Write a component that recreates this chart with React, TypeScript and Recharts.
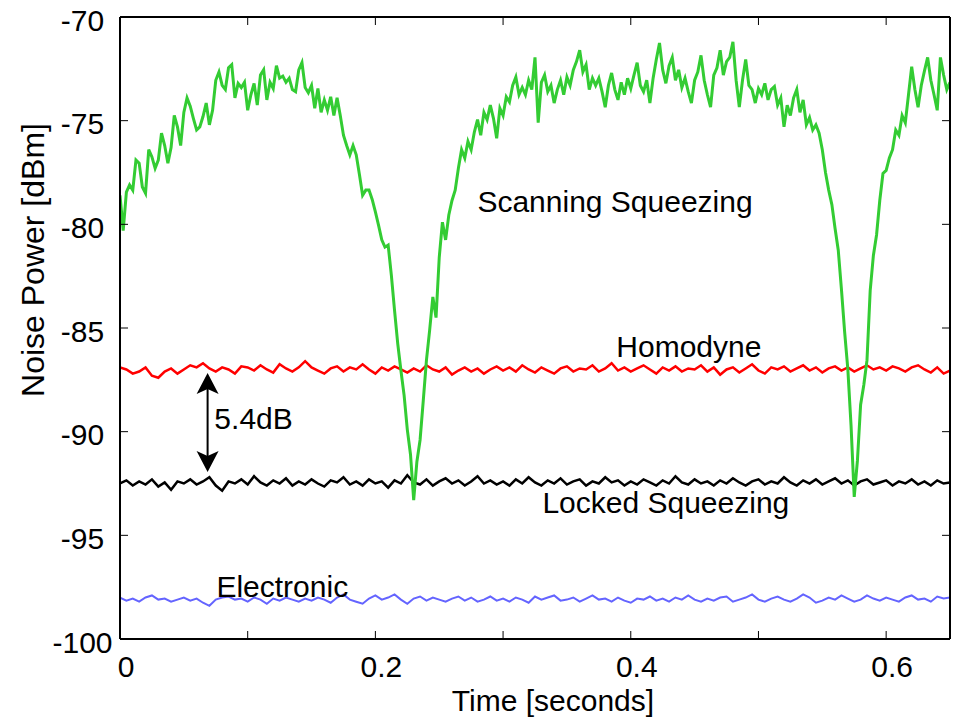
import { LineChart, Line, XAxis, YAxis, ReferenceLine, ReferenceDot } from "recharts";

// scanning squeezing trace, sampled every 0.0025 s
const scanning = [
  -78.6, -80.3, -78.45, -78.1, -78.35, -76.9, -77.05, -78.2, -78.5, -76.4,
  -76.75, -77.3, -76.9, -75.6, -76.2, -77.05, -76.3, -74.75, -75.3, -76.2,
  -74.6, -73.9, -74.3, -74.9, -75.45, -75.3, -74.8, -74.15, -75.2, -74.5,
  -73.05, -72.65, -73.3, -73.5, -72.45, -72.3, -73.9, -73.2, -73.4, -73.15,
  -74.5, -73.75, -73.2, -74.25, -72.8, -72.55, -74.0, -73.15, -73.45, -72.35,
  -72.95, -72.85, -73.15, -72.95, -73.5, -73.6, -72.55, -72.2, -73.4, -73.65,
  -73.3, -74.4, -73.45, -74.6, -74.0, -74.5, -73.85, -74.75, -73.9, -74.75,
  -75.7, -76.2, -76.65, -76.2, -76.65, -77.6, -78.6, -78.35, -78.35, -78.8,
  -79.4, -80.05, -80.75, -81.1, -81.0, -82.45, -84.15, -85.75, -87.05, -88.25,
  -89.9, -91.1, -93.3, -91.45, -90.4, -88.5, -86.55, -85.1, -83.5, -84.5,
  -81.6, -79.9, -80.75, -79.55, -78.85, -78.35, -77.3, -76.4, -76.8, -76.0,
  -76.4, -75.55, -74.95, -75.7, -74.6, -74.95, -74.25, -74.9, -75.85, -74.4,
  -74.75, -73.85, -74.1, -73.3, -72.9, -73.75, -73.4, -73.75, -73.05, -73.5,
  -71.95, -75.1, -73.15, -72.8, -73.6, -73.3, -74.15, -73.5, -73.05, -73.75,
  -72.9, -73.3, -72.55, -72.15, -71.6, -72.65, -72.3, -73.5, -72.95, -73.3,
  -72.95, -73.6, -74.35, -73.3, -72.7, -73.5, -74.0, -73.15, -73.75, -72.95,
  -73.45, -72.8, -72.2, -73.3, -73.6, -73.05, -74.15, -72.95, -72.05, -71.25,
  -72.55, -73.2, -72.35, -71.95, -73.05, -72.55, -73.4, -72.95, -73.6, -74.15,
  -73.05, -72.65, -71.85, -73.05, -73.75, -74.35, -72.8, -72.45, -71.6, -72.8,
  -72.15, -71.95, -71.2, -73.05, -74.35, -73.05, -72.05, -73.3, -73.5, -74.15,
  -73.45, -73.75, -73.2, -74.0, -73.5, -73.35, -74.25, -73.9, -75.3, -74.25,
  -74.75, -73.9, -73.5, -74.6, -74.0, -75.2, -74.85, -75.45, -75.2, -75.6,
  -76.4, -77.5, -78.35, -79.05, -80.2, -81.25, -83.15, -85.2, -87.0, -89.7,
  -93.15, -91.4, -88.7, -87.75, -86.55, -83.2, -81.5, -80.5, -78.85, -77.55,
  -77.4, -76.8, -76.4, -75.45, -75.7, -74.75, -75.1, -73.75, -72.4, -73.5,
  -74.35, -73.3, -72.6, -71.95, -73.05, -73.75, -74.5, -71.95, -72.8, -73.5,
  -73.15,
];

// flat traces, sampled every 0.005 s
const homodyne = [
  -86.9, -87.0, -87.2, -87.1, -86.9, -87.3, -87.4, -87.1, -86.95, -87.2,
  -87.0, -86.8, -86.9, -86.7, -86.95, -87.1, -86.9, -87.0, -87.2, -86.85,
  -86.9, -87.05, -86.8, -87.0, -87.15, -86.75, -86.95, -87.1, -86.9, -86.6,
  -86.9, -87.05, -87.2, -86.95, -86.85, -87.1, -86.9, -87.0, -86.75, -87.0,
  -87.2, -86.9, -87.05, -86.85, -87.0, -87.15, -86.95, -87.1, -86.8, -87.0,
  -87.1, -86.9, -87.25, -87.05, -86.9, -87.1, -86.95, -87.2, -87.0, -86.85,
  -87.05, -86.9, -87.1, -86.8, -87.0, -87.15, -86.9, -87.05, -87.2, -86.95,
  -86.85, -87.1, -86.95, -87.0, -86.8, -87.1, -86.95, -86.7, -87.05, -86.9,
  -87.1, -86.95, -86.8, -87.0, -87.2, -86.9, -87.05, -86.85, -87.1, -86.95,
  -87.0, -86.8, -87.1, -86.9, -87.25, -87.0, -86.9, -87.15, -86.95, -86.75,
  -87.05, -87.2, -86.9, -87.0, -86.85, -87.1, -86.95, -86.8, -87.05, -86.9,
  -87.15, -86.95, -86.85, -87.05, -86.9, -87.1, -86.95, -86.8, -87.0, -86.9,
  -87.05, -86.85, -86.95, -87.1, -86.9, -86.8, -87.0, -87.15, -86.9, -87.2,
  -87.05,
];

const locked = [
  -92.5, -92.35, -92.6, -92.4, -92.55, -92.3, -92.65, -92.45, -92.8, -92.4,
  -92.5, -92.3, -92.55, -92.4, -92.2, -92.6, -92.85, -92.4, -92.5, -92.3,
  -92.55, -92.15, -92.45, -92.6, -92.35, -92.5, -92.25, -92.6, -92.4, -92.55,
  -92.3, -92.5, -92.65, -92.35, -92.45, -92.2, -92.55, -92.4, -92.6, -92.3,
  -92.5, -92.4, -92.7, -92.35, -92.5, -92.1, -92.45, -92.55, -92.3, -92.6,
  -92.4, -92.25, -92.5, -92.35, -92.6, -92.4, -92.15, -92.5, -92.35, -92.55,
  -92.4, -92.6, -92.3, -92.5, -92.2, -92.45, -92.6, -92.35, -92.5, -92.25,
  -92.55, -92.4, -92.3, -92.6, -92.4, -92.5, -92.2, -92.45, -92.35, -92.6,
  -92.4, -92.55, -92.3, -92.45, -92.6, -92.35, -92.5, -92.15, -92.45, -92.55,
  -92.3, -92.5, -92.4, -92.6, -92.35, -92.5, -92.25, -92.45, -92.6, -92.4,
  -92.3, -92.55, -92.4, -92.5, -92.2, -92.45, -92.6, -92.35, -92.5, -92.3,
  -92.55, -92.4, -92.25, -92.5, -92.35, -92.6, -92.4, -92.3, -92.55, -92.45,
  -92.35, -92.6, -92.4, -92.5, -92.3, -92.55, -92.4, -92.6, -92.35, -92.5,
  -92.45,
];

const electronic = [
  -98.0, -98.15, -98.05, -98.2, -98.0, -97.9, -98.1, -98.05, -98.2, -98.1,
  -98.0, -98.15, -98.05, -98.25, -98.4, -98.1, -98.0, -97.95, -98.1, -98.05,
  -98.2, -98.0, -98.1, -98.3, -98.05, -98.15, -98.0, -98.1, -98.2, -98.05,
  -98.15, -98.0, -98.1, -98.25, -98.0, -97.85, -98.1, -98.2, -98.3, -98.05,
  -97.9, -98.1, -98.0, -97.85, -98.1, -98.3, -98.05, -97.95, -98.15, -98.0,
  -98.1, -98.2, -98.05, -97.95, -98.15, -98.0, -98.2, -98.1, -97.95, -98.15,
  -98.05, -98.2, -98.0, -98.1, -98.25, -97.95, -98.1, -98.0, -97.9, -98.15,
  -98.1, -98.0, -98.2, -98.05, -97.9, -98.1, -98.05, -98.2, -98.0, -98.15,
  -98.25, -98.05, -98.1, -97.95, -98.15, -98.05, -98.2, -98.0, -98.1, -97.9,
  -98.1, -98.2, -98.05, -98.15, -98.0, -97.95, -98.2, -98.1, -98.0, -97.85,
  -98.1, -98.2, -98.05, -97.95, -98.1, -98.2, -98.05, -97.85, -98.0, -98.25,
  -98.15, -98.0, -98.1, -97.9, -98.05, -98.2, -98.1, -97.9, -98.05, -98.15,
  -98.0, -98.1, -98.2, -98.0, -97.9, -98.1, -98.05, -98.2, -97.95, -98.05,
  -98.0,
];

const xTicks = [0, 0.1, 0.2, 0.3, 0.4, 0.5, 0.6];
const xTickLabels = ["0", "", "0.2", "", "0.4", "", "0.6"];
const yTicks = [-100, -95, -90, -85, -80, -75, -70];

// annotations: text anchored at (time, dBm), left/baseline
const notes = [
  { text: "Scanning Squeezing", t: 0.2799, v: -79.41 },
  { text: "Homodyne", t: 0.3887, v: -86.4 },
  { text: "5.4dB", t: 0.0739, v: -89.87 },
  { text: "Locked Squeezing", t: 0.3308, v: -93.93 },
  { text: "Electronic", t: 0.0755, v: -97.98 },
];
const arrowT = 0.0686;
const arrowTop = -87.17;
const arrowBottom = -91.95;

const FONT = "'Liberation Sans', Arial, Helvetica, sans-serif";

const toSeries = (vals: number[], step: number) =>
  vals.map((v, i) => ({ t: +(i * step).toFixed(4), v }));

function BottomTick({ x, y, payload }: any) {
  const label = xTickLabels[Math.round(payload.value * 10)];
  return (
    <g>
      <line x1={x} y1={y} x2={x} y2={y - 8} stroke="#000" strokeWidth={1} />
      {label && (
        <text x={x + 6} y={y + 38} textAnchor="middle" fontSize={30} fontFamily={FONT} fill="#000">
          {label}
        </text>
      )}
    </g>
  );
}

function TopTick({ x, y }: any) {
  return <line x1={x} y1={y} x2={x} y2={y + 8} stroke="#000" strokeWidth={1} />;
}

function LeftTick({ x, y, payload }: any) {
  return (
    <g>
      <line x1={x} y1={y} x2={x + 8} y2={y} stroke="#000" strokeWidth={1} />
      <text x={x - 37.5} y={y + 13.5} textAnchor="middle" fontSize={30} fontFamily={FONT} fill="#000">
        {payload.value}
      </text>
    </g>
  );
}

function RightTick({ x, y }: any) {
  return <line x1={x} y1={y} x2={x - 8} y2={y} stroke="#000" strokeWidth={1} />;
}

function Arrow(p: any) {
  const x = p.x1;
  const top = Math.min(p.y1, p.y2);
  const bot = Math.max(p.y1, p.y2);
  return (
    <g>
      <line x1={x} y1={top + 14} x2={x} y2={bot - 14} stroke="#000" strokeWidth={2} />
      <polygon points={`${x},${top} ${x - 11},${top + 21} ${x},${top + 16} ${x + 11},${top + 21}`} fill="#000" />
      <polygon points={`${x},${bot} ${x - 11},${bot - 21} ${x},${bot - 16} ${x + 11},${bot - 21}`} fill="#000" />
    </g>
  );
}

export default function App() {
  const axisLine = { stroke: "#000", strokeWidth: 2 };
  return (
    <div style={{ position: "absolute", left: 0, top: 0, background: "#fff" }}>
      <LineChart
        width={955}
        height={718}
        margin={{ top: 16, right: 4, bottom: 78, left: 119 }}
        style={{ fontFamily: FONT }}
      >
        <XAxis
          xAxisId={0}
          type="number"
          dataKey="t"
          domain={[0, 0.65]}
          ticks={xTicks}
          interval={0}
          height={1}
          tickSize={0}
          tickMargin={0}
          tickLine={false}
          axisLine={axisLine}
          tick={<BottomTick />}
          allowDataOverflow
          label={() => (
            <text x={553} y={711} textAnchor="middle" fontSize={30} fontFamily={FONT} fill="#000">
              Time [seconds]
            </text>
          )}
        />
        <XAxis
          xAxisId="top"
          orientation="top"
          type="number"
          dataKey="t"
          domain={[0, 0.65]}
          ticks={xTicks}
          interval={0}
          height={1}
          tickSize={0}
          tickMargin={0}
          tickLine={false}
          axisLine={axisLine}
          tick={<TopTick />}
          allowDataOverflow
        />
        <YAxis
          yAxisId={0}
          type="number"
          domain={[-100, -70]}
          ticks={yTicks}
          interval={0}
          width={1}
          tickSize={0}
          tickMargin={0}
          tickLine={false}
          axisLine={axisLine}
          tick={<LeftTick />}
          allowDataOverflow
          label={() => (
            <text
              x={43.5}
              y={260}
              transform="rotate(-90 43.5 260)"
              textAnchor="middle"
              fontSize={32}
              fontFamily={FONT}
              fill="#000"
            >
              Noise Power [dBm]
            </text>
          )}
        />
        <YAxis
          yAxisId="right"
          orientation="right"
          type="number"
          domain={[-100, -70]}
          ticks={yTicks}
          interval={0}
          width={1}
          tickSize={0}
          tickMargin={0}
          tickLine={false}
          axisLine={axisLine}
          tick={<RightTick />}
          allowDataOverflow
        />

        <Line
          data={toSeries(electronic, 0.005)}
          dataKey="v"
          type="linear"
          stroke="#6464ff"
          strokeWidth={2}
          dot={false}
          activeDot={false}
          isAnimationActive={false}
        />
        <Line
          data={toSeries(locked, 0.005)}
          dataKey="v"
          type="linear"
          stroke="#000000"
          strokeWidth={2.5}
          dot={false}
          activeDot={false}
          isAnimationActive={false}
        />
        <Line
          data={toSeries(homodyne, 0.005)}
          dataKey="v"
          type="linear"
          stroke="#ff0000"
          strokeWidth={2.5}
          dot={false}
          activeDot={false}
          isAnimationActive={false}
        />
        <Line
          data={toSeries(scanning, 0.0025)}
          dataKey="v"
          type="linear"
          stroke="#33cc33"
          strokeWidth={3}
          dot={false}
          activeDot={false}
          isAnimationActive={false}
        />

        <ReferenceLine
          segment={[
            { x: arrowT, y: arrowTop },
            { x: arrowT, y: arrowBottom },
          ]}
          stroke="#000"
          shape={Arrow}
        />

        {notes.map((n) => (
          <ReferenceDot
            key={n.text}
            x={n.t}
            y={n.v}
            r={0}
            fill="none"
            stroke="none"
            label={(p: any) => (
              <text x={p.viewBox.x} y={p.viewBox.y} fontSize={30} fontFamily={FONT} fill="#000">
                {n.text}
              </text>
            )}
          />
        ))}
      </LineChart>
    </div>
  );
}
